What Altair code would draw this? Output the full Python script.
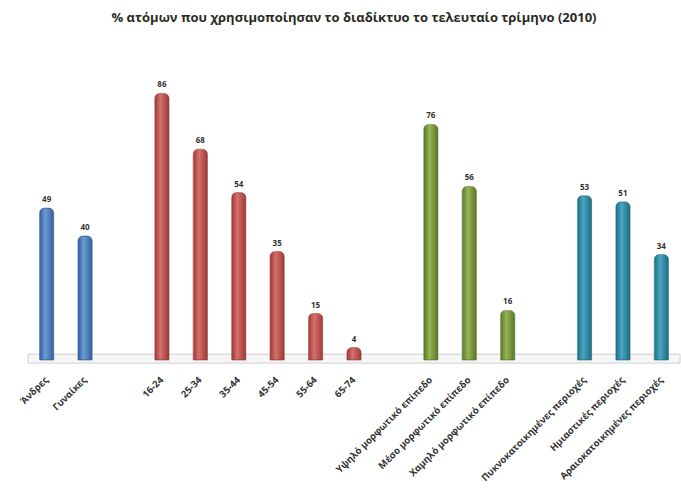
import altair as alt
import pandas as pd

categories = ["Άνδρες", "Γυναίκες",
              "16-24", "25-34", "35-44", "45-54", "55-64", "65-74",
              "Υψηλό μορφωτικό επίπεδο", "Μέσο μορφωτικό επίπεδο", "Χαμηλό μορφωτικό επίπεδο",
              "Πυκνοκατοικημένες περιοχές", "Ημιαστικές περιοχές", "Αραιοκατοικημένες περιοχές"]
values = [49, 40, 86, 68, 54, 35, 15, 4, 76, 56, 16, 53, 51, 34]
groups = ["Φύλο", "Φύλο",
          "Ηλικία", "Ηλικία", "Ηλικία", "Ηλικία", "Ηλικία", "Ηλικία",
          "Εκπαίδευση", "Εκπαίδευση", "Εκπαίδευση",
          "Περιοχή", "Περιοχή", "Περιοχή"]

# x domain with empty spacer slots between the groups
domain = (categories[0:2] + ["_1"] + categories[2:8] + ["_2"] +
          categories[8:11] + ["_3"] + categories[11:14])

group_names = ["Φύλο", "Ηλικία", "Εκπαίδευση", "Περιοχή"]
group_dark = ["#335f96", "#9c3936", "#5a7629", "#206b83"]
group_light = ["#6c9bd6", "#d6706c", "#95b655", "#49a6c2"]

# floor slab (decorative), in value units
floor_top = [1.9]
floor_bottom = [-1.0]

df = pd.DataFrame({"category": categories, "value": values, "group": groups})
floor_df = pd.DataFrame({"top": floor_top, "bottom": floor_bottom})

yscale = alt.Scale(domain=[0, 100])

xenc = alt.X("category:N",
             scale=alt.Scale(domain=domain, paddingInner=0.63, paddingOuter=0.3),
             axis=alt.Axis(title=None, labelAngle=-45, labelAlign="right", labelBaseline="middle",
                           labelPadding=18, ticks=False, domain=False,
                           labelExpr="indexof(datum.label, '_') == 0 ? '' : datum.label",
                           labelFont="Open Sans", labelFontSize=9.5, labelFontWeight="bold",
                           labelColor="#333333", labelLimit=300))
yenc = alt.Y("value:Q", scale=yscale, axis=None)

floor = alt.Chart(floor_df).mark_rect(fill="#f6f6f6", stroke="#cfcfcf", strokeWidth=1).encode(
    y=alt.Y("top:Q", scale=yscale, axis=None),
    y2="bottom:Q",
)

base = alt.Chart(df)
layers = [floor]
for g, dark, light in zip(group_names, group_dark, group_light):
    grad = alt.Gradient(gradient="linear",
                        stops=[alt.GradientStop(color=dark, offset=0),
                               alt.GradientStop(color=light, offset=0.4),
                               alt.GradientStop(color=dark, offset=1)],
                        x1=0, x2=1, y1=0, y2=0)
    layers.append(
        base.transform_filter(alt.datum.group == g).mark_bar(
            color=grad, cornerRadiusTopLeft=5, cornerRadiusTopRight=5,
            stroke=dark, strokeWidth=0.6
        ).encode(x=xenc, y=yenc)
    )

text = base.mark_text(dy=-8, font="Open Sans", fontSize=8, fontWeight="bold", color="#333333").encode(
    x=xenc, y=yenc, text="value:Q"
)
layers.append(text)

chart = alt.layer(*layers).properties(
    width=652, height=310,
    title=alt.TitleParams("% ατόμων που χρησιμοποίησαν το διαδίκτυο το τελευταίο τρίμηνο (2010)",
                          font="Open Sans", fontSize=13, fontWeight="bold", color="#2b2b1f",
                          anchor="middle", offset=25),
    padding={"left": 28, "top": 50, "right": 1, "bottom": 133},
    autosize="none",
).configure_view(stroke=None)

chart.save("out.html", embed_options={"renderer": "svg", "actions": False})
